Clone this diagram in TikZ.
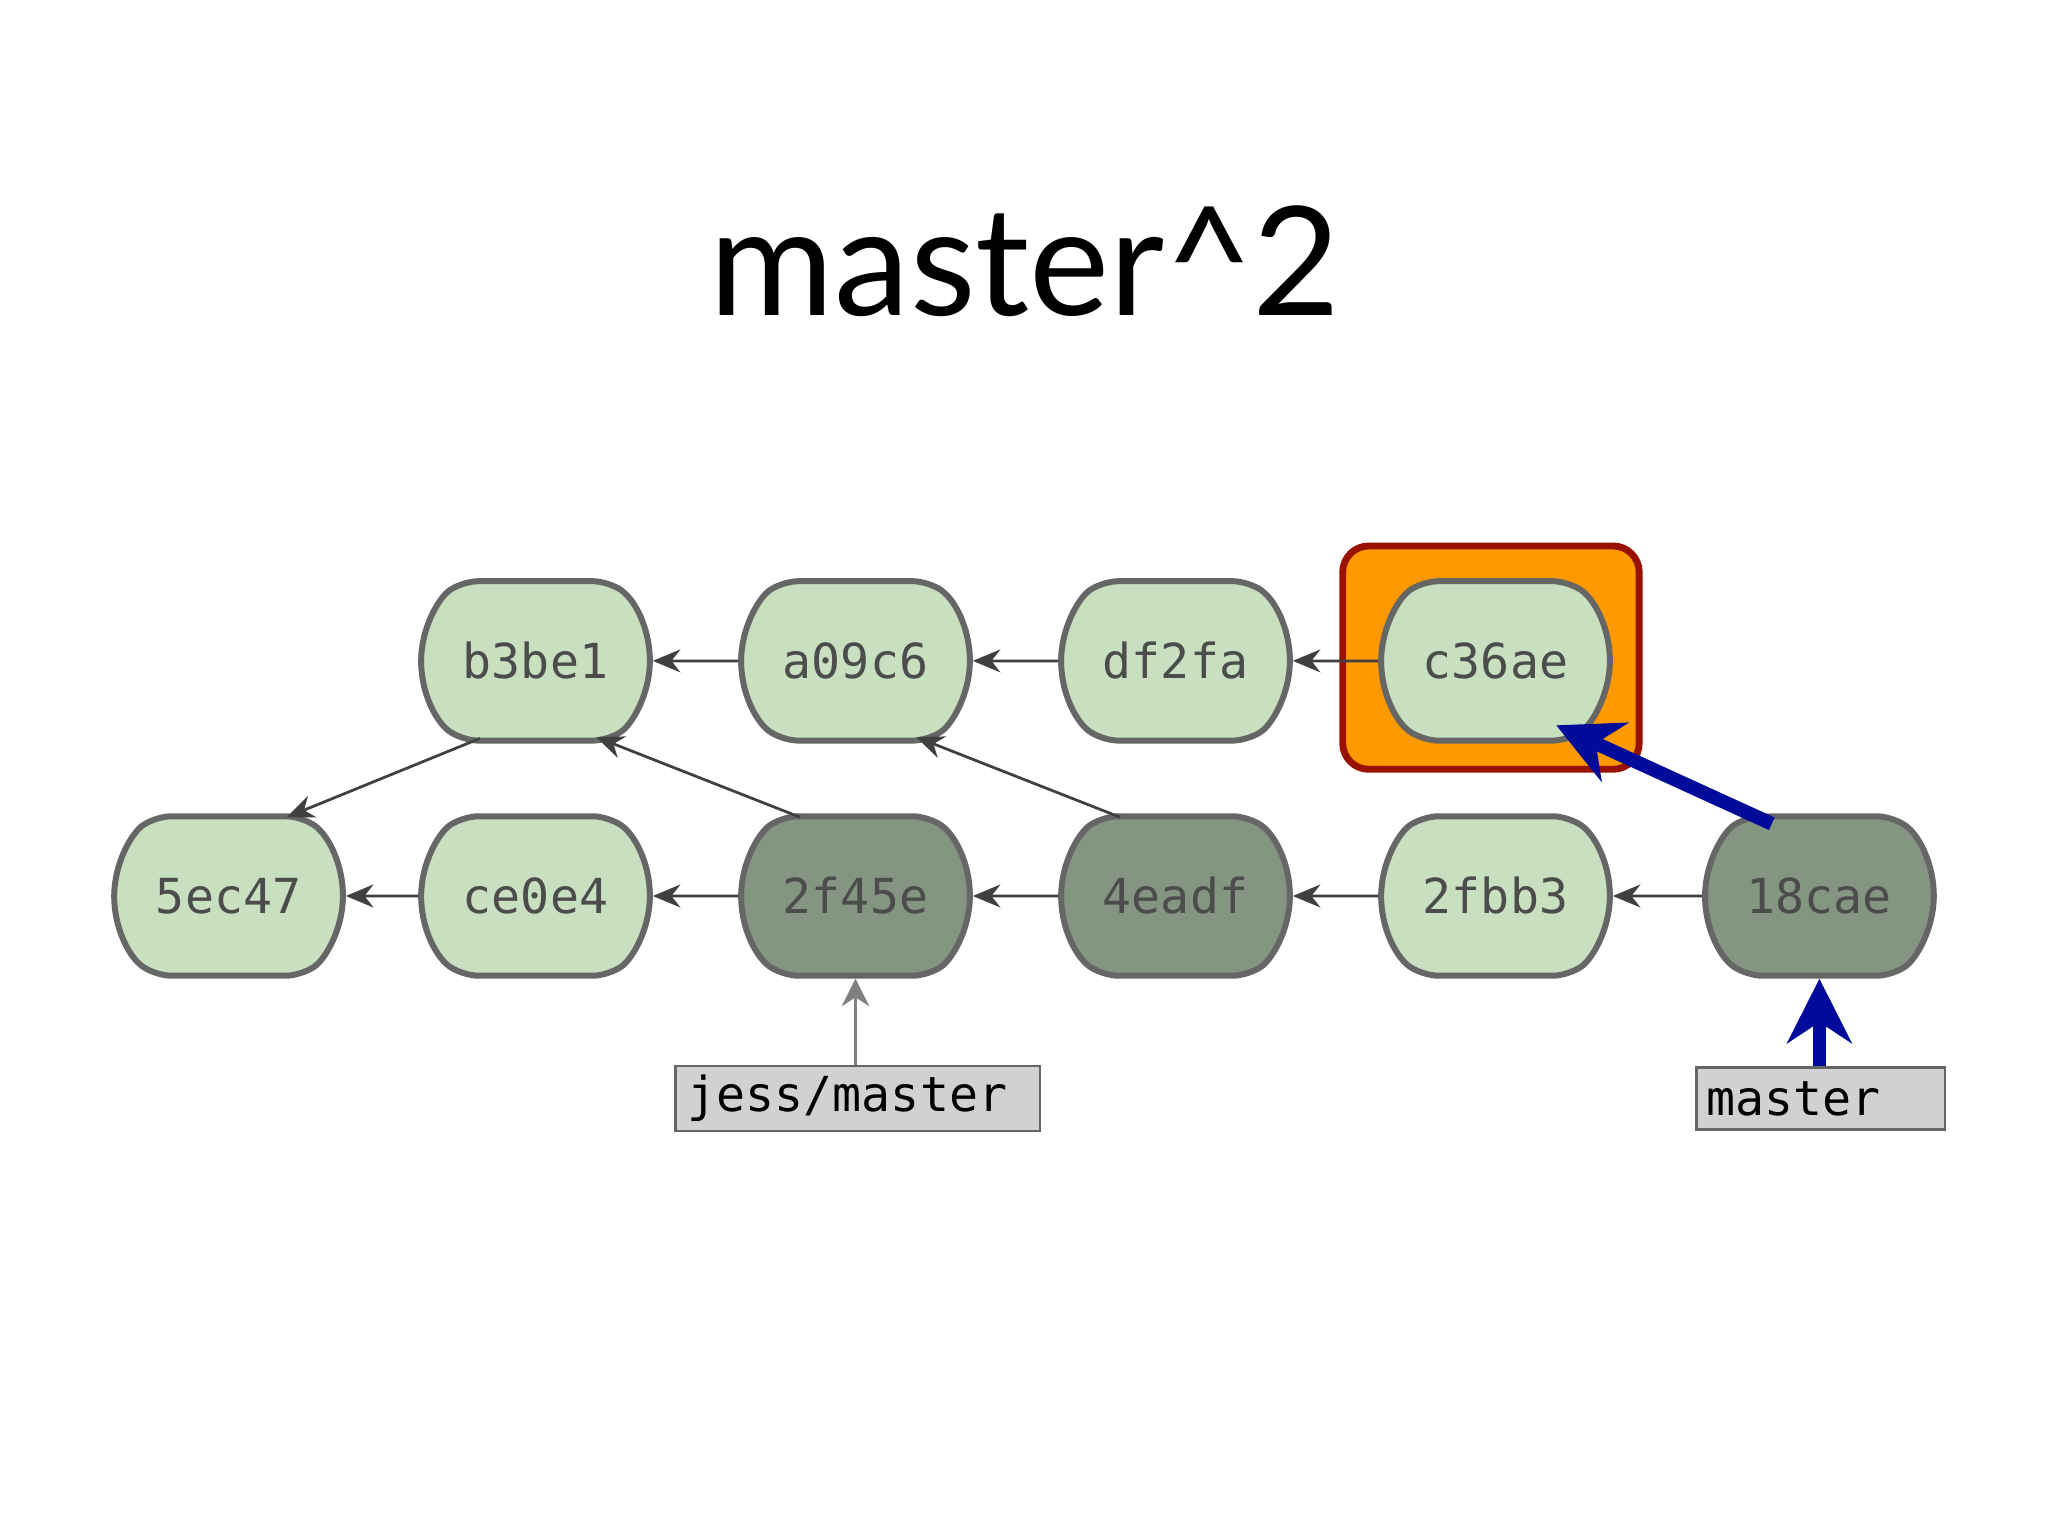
\documentclass[tikz,border=0pt]{standalone}
\usepackage{fontspec}
\setmainfont{Lato}
\newfontfamily\monof{DejaVu Sans Mono}
\usetikzlibrary{shapes.misc,arrows.meta}
\definecolor{lgreen}{HTML}{C8E0C0}
\definecolor{dgreen}{HTML}{849682}
\definecolor{bord}{HTML}{666666}
\definecolor{hilite}{HTML}{FF9900}
\definecolor{hiborder}{HTML}{991100}
\definecolor{navy}{HTML}{000C99}
\tikzset{
  commit/.style={rounded rectangle, rounded rectangle arc length=110,
    rounded corners=0.12cm,
    minimum width=1.75cm, minimum height=1.22cm, inner sep=0pt,
    draw=bord, line width=1.3pt, fill=lgreen, text=black!70,
    font=\monof\fontsize{10.5}{10.5}\selectfont},
  old/.style={commit, fill=dgreen},
  ref/.style={draw=black!60, fill=black!18, line width=0.6pt,
    minimum height=0.47cm, inner sep=2pt, anchor=west, align=left,
    font=\monof\fontsize{10.5}{10.5}\selectfont},
  parent/.style={-{Stealth[length=6pt,width=5pt]}, draw=black!75, line width=0.6pt},
  pointer/.style={-{Stealth[length=14pt,width=14pt]}, draw=navy, line width=3pt}
}
\begin{document}
\begin{tikzpicture}[x=0.01cm,y=-0.01cm]
\fill[white] (0,0) rectangle (1568,1176);
\node[font=\fontsize{33}{33}\selectfont] (title) at (785,200) {master\^{}2};
\draw[fill=hilite, draw=hiborder, line width=1.5pt, rounded corners=0.2cm]
  (1028,418) rectangle (1255,589);
% top row
\node[commit] (b3be1) at (410,506) {b3be1};
\node[commit] (a09c6) at (655,506) {a09c6};
\node[commit] (df2fa) at (900,506) {df2fa};
\node[commit] (c36ae) at (1145,506) {c36ae};
% bottom row
\node[commit] (5ec47) at (175,686) {5ec47};
\node[commit] (ce0e4) at (410,686) {ce0e4};
\node[old] (2f45e) at (655,686) {2f45e};
\node[old] (4eadf) at (900,686) {4eadf};
\node[commit] (2fbb3) at (1145,686) {2fbb3};
\node[old] (18cae) at (1393,686) {18cae};
% refs
\node[ref, minimum width=2.79cm, text width=2.6cm] (jess) at (516,841) {jess/master};
\node[ref, minimum width=1.9cm, text width=1.75cm] (master) at (1298,841) {master};
% parents
\draw[parent] (a09c6) -- (b3be1);
\draw[parent] (df2fa) -- (a09c6);
\draw[parent] (c36ae) -- (df2fa);
\draw[parent] (ce0e4) -- (5ec47);
\draw[parent] (2f45e) -- (ce0e4);
\draw[parent] (4eadf) -- (2f45e);
\draw[parent] (2fbb3) -- (4eadf);
\draw[parent] (18cae) -- (2fbb3);
\draw[parent] ([xshift=0.14cm,yshift=0.04cm]b3be1.south west) -- ([xshift=-0.12cm,yshift=-0.03cm]5ec47.north east);
\draw[parent] ([xshift=0.14cm,yshift=-0.03cm]2f45e.north west) -- ([xshift=-0.1cm,yshift=0.05cm]b3be1.south east);
\draw[parent] ([xshift=0.14cm,yshift=-0.03cm]4eadf.north west) -- ([xshift=-0.1cm,yshift=0.05cm]a09c6.south east);
\draw[-{Stealth[length=6pt,width=6pt]}, draw=black!50, line width=0.6pt] (jess.north -| 2f45e) -- (2f45e.south);
\draw[pointer] (master.north -| 18cae) -- (18cae.south);
\draw[pointer] ([xshift=0.2cm,yshift=-0.08cm]18cae.north west) -- ([xshift=-0.1cm,yshift=0.14cm]c36ae.south east);
\end{tikzpicture}
\end{document}
